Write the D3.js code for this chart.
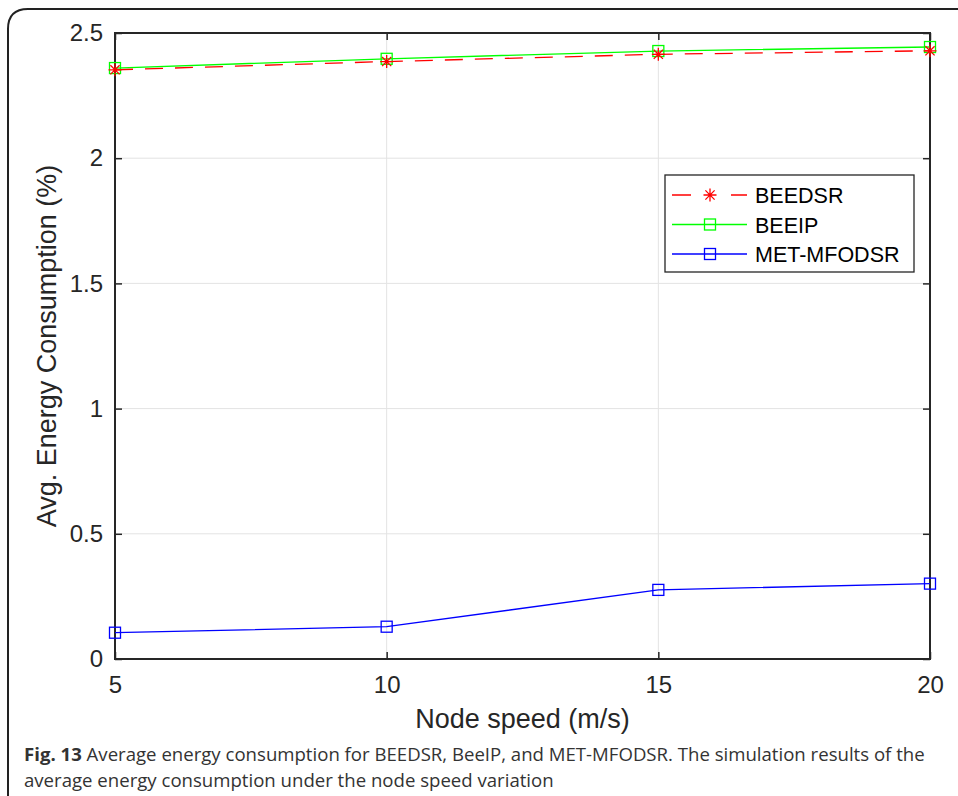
<!DOCTYPE html>
<html>
<head>
<meta charset="utf-8">
<script src="https://cdn.jsdelivr.net/npm/d3@7/dist/d3.min.js"></script>
<style>
  html, body { margin: 0; padding: 0; background: #fff; }
  svg { display: block; }
</style>
</head>
<body>
<svg id="chart" width="958" height="796"></svg>
<script>
// Node speed (m/s) on the x axis
const speeds = [5, 10, 15, 20];
// Average energy consumption (%) per protocol
const beedsr = [2.353, 2.386, 2.415, 2.429];
const beeip = [2.360, 2.397, 2.428, 2.444];
const metMfodsr = [0.105, 0.129, 0.276, 0.301];
const seriesNames = ["BEEDSR", "BEEIP", "MET-MFODSR"];
const xTicks = [5, 10, 15, 20];
const yTicks = [0, 0.5, 1, 1.5, 2, 2.5];

const svg = d3.select("#chart");
const axisColor = "#262626";
const font = "'Liberation Sans', Arial, sans-serif";

// Outer panel with rounded corners
svg.append("path")
  .attr("d", "M8,796 L8,29 Q8,9 28,9 L960,9")
  .attr("fill", "none").attr("stroke", "#222").attr("stroke-width", 2);

const plot = { left: 115, right: 930, top: 33, bottom: 659 };
const x = d3.scaleLinear().domain([5, 20]).range([plot.left, plot.right]);
const y = d3.scaleLinear().domain([0, 2.5]).range([plot.bottom, plot.top]);

// Grid
const grid = svg.append("g");
grid.selectAll("line.vx").data(xTicks.slice(1, -1)).join("line")
  .attr("x1", d => x(d)).attr("x2", d => x(d))
  .attr("y1", plot.top).attr("y2", plot.bottom)
  .attr("stroke", "#e3e3e3").attr("stroke-width", 1);
grid.selectAll("line.hy").data(yTicks.slice(1, -1)).join("line")
  .attr("x1", plot.left).attr("x2", plot.right)
  .attr("y1", d => y(d)).attr("y2", d => y(d))
  .attr("stroke", "#e3e3e3").attr("stroke-width", 1);

// Axes (ticks pointing inward, box on all four sides)
function styleAxis(g) {
  g.select(".domain").remove();
  g.selectAll(".tick line").attr("stroke", axisColor).attr("stroke-width", 1.5);
  g.selectAll(".tick text").attr("fill", axisColor)
    .style("font-family", font).style("font-size", "24px");
}
svg.append("g").attr("transform", `translate(0,${plot.bottom})`)
  .call(d3.axisBottom(x).tickValues(xTicks).tickSize(-7).tickPadding(17).tickFormat(d3.format("d")))
  .call(styleAxis);
svg.append("g").attr("transform", `translate(0,${plot.top})`)
  .call(d3.axisTop(x).tickValues(xTicks).tickSize(-7).tickFormat(""))
  .call(styleAxis);
svg.append("g").attr("transform", `translate(${plot.left},0)`)
  .call(d3.axisLeft(y).tickValues(yTicks).tickSize(-7).tickPadding(12).tickFormat(d => d3.format("")(d)))
  .call(styleAxis);
svg.append("g").attr("transform", `translate(${plot.right},0)`)
  .call(d3.axisRight(y).tickValues(yTicks).tickSize(-7).tickFormat(""))
  .call(styleAxis);

svg.append("rect")
  .attr("x", plot.left).attr("y", plot.top)
  .attr("width", plot.right - plot.left).attr("height", plot.bottom - plot.top)
  .attr("fill", "none").attr("stroke", axisColor).attr("stroke-width", 2);

// Axis titles
svg.append("text")
  .attr("x", (plot.left + plot.right) / 2).attr("y", 728)
  .attr("text-anchor", "middle").attr("fill", axisColor)
  .style("font-family", font).style("font-size", "27px")
  .text("Node speed (m/s)");
svg.append("text")
  .attr("transform", `translate(56,${(plot.top + plot.bottom) / 2}) rotate(-90)`)
  .attr("text-anchor", "middle").attr("fill", axisColor)
  .style("font-family", font).style("font-size", "27px")
  .text("Avg. Energy Consumption (%)");

// Marker helpers
function square(g, cx, cy, color) {
  g.append("rect").attr("x", cx - 5.5).attr("y", cy - 5.5).attr("width", 11).attr("height", 11)
    .attr("fill", "none").attr("stroke", color).attr("stroke-width", 1.3);
}
function asterisk(g, cx, cy, color) {
  const r = 6.5, d = r * Math.SQRT1_2;
  const p = `M${cx - r},${cy}L${cx + r},${cy}M${cx},${cy - r}L${cx},${cy + r}` +
            `M${cx - d},${cy - d}L${cx + d},${cy + d}M${cx - d},${cy + d}L${cx + d},${cy - d}`;
  g.append("path").attr("d", p).attr("stroke", color).attr("stroke-width", 1.3).attr("fill", "none");
}

const series = [
  { name: seriesNames[0], values: beedsr, color: "#ff0000", dash: "18,12", legendDash: "19,40,16", marker: asterisk },
  { name: seriesNames[1], values: beeip, color: "#00ff00", dash: null, legendDash: null, marker: square },
  { name: seriesNames[2], values: metMfodsr, color: "#0000ff", dash: null, legendDash: null, marker: square }
];

const line = d3.line().x(d => x(d[0])).y(d => y(d[1]));
const marks = svg.append("g");
// green drawn before red so the dashed line and asterisks sit on top
[series[2], series[1], series[0]].forEach(s => {
  const pts = speeds.map((v, i) => [v, s.values[i]]);
  marks.append("path").datum(pts).attr("d", line)
    .attr("fill", "none").attr("stroke", s.color).attr("stroke-width", 1.3)
    .attr("stroke-dasharray", s.dash);
  pts.forEach(p => s.marker(marks, x(p[0]), y(p[1]), s.color));
});

// Legend
const lg = svg.append("g");
lg.append("rect").attr("x", 665).attr("y", 175).attr("width", 249).attr("height", 97)
  .attr("fill", "#fff").attr("stroke", axisColor).attr("stroke-width", 1.3);
series.forEach((s, i) => {
  const ly = 195 + i * 29.5;
  lg.append("line").attr("x1", 672).attr("x2", 747).attr("y1", ly).attr("y2", ly)
    .attr("stroke", s.color).attr("stroke-width", 1.3)
    .attr("stroke-dasharray", s.legendDash);
  s.marker(lg, 710, ly, s.color);
  lg.append("text").attr("x", 755).attr("y", ly + 8).attr("fill", "#000")
    .style("font-family", font).style("font-size", "21.5px").text(s.name);
});

// Caption
const cap = svg.append("g").style("font-family", "'Open Sans', sans-serif").style("font-size", "18.6px").attr("fill", "#333");
const t1 = cap.append("text").attr("x", 24).attr("y", 761);
t1.append("tspan").attr("font-weight", "bold").text("Fig. 13");
t1.append("tspan").text(" Average energy consumption for BEEDSR, BeeIP, and MET-MFODSR. The simulation results of the");
cap.append("text").attr("x", 24).attr("y", 787)
  .text("average energy consumption under the node speed variation");
</script>
</body>
</html>
